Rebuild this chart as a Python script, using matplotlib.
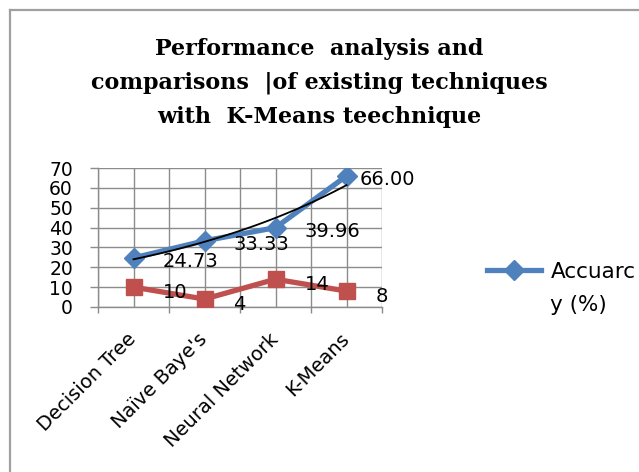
import numpy as np
import matplotlib
matplotlib.use("Agg")
import matplotlib.pyplot as plt
from matplotlib.lines import Line2D

categories = ["Decision Tree", "Naïve Baye's", "Neural Network", "K-Means"]
accuracy = [24.73, 33.33, 39.96, 66.00]
accuracy_labels = ["24.73", "33.33", "39.96", "66.00"]
second = [10, 4, 14, 8]
second_labels = ["10", "4", "14", "8"]
yticks = [0, 10, 20, 30, 40, 50, 60, 70]
title = "Performance  analysis and\ncomparisons  |of existing techniques\nwith  K-Means teechnique"
legend_line1 = "Accuarc"
legend_line2 = "y (%)"

BLUE = "#4F81BD"
RED = "#C0504D"
GRID = "#8C8C8C"
DPI = 100

fig = plt.figure(figsize=(6.39, 4.72), dpi=DPI)
ax = fig.add_axes([98/639, 1-307/472, (382-98)/639, (307-168)/472])

x = np.arange(len(categories))
blue_line, = ax.plot(x, accuracy, color=BLUE, lw=3.8, marker="D", ms=10,
                     mec=BLUE, mfc=BLUE, zorder=4)
ax.plot(x, second, color=RED, lw=3.8, marker="s", ms=11, mec=RED, mfc=RED,
        zorder=4)

# exponential trendline on accuracy
coef = np.polyfit(x, np.log(accuracy), 1)
xt = np.linspace(x[0], x[-1], 100)
ax.plot(xt, np.exp(np.polyval(coef, xt)), color="black", lw=1.3, zorder=5)

for i, (v, t) in enumerate(zip(accuracy, accuracy_labels)):
    dx = 13 if i == len(accuracy) - 1 else 29
    ax.annotate(t, (x[i], v), xytext=(dx, -4), textcoords="offset pixels",
                ha="left", va="center", fontsize=14, color="black", zorder=6)
for i, (v, t) in enumerate(zip(second, second_labels)):
    ax.annotate(t, (x[i], v), xytext=(29, -5), textcoords="offset pixels",
                ha="left", va="center", fontsize=14, color="black", zorder=6)

ax.set_xlim(-0.5, len(categories) - 0.5)
ax.set_ylim(0, 70)
ax.set_yticks(yticks)
ax.set_yticklabels([str(t) for t in yticks], fontsize=13.5)
ax.set_xticks(x)
ax.set_xticklabels(categories, rotation=45, ha="right", va="center",
                   rotation_mode="anchor", fontsize=14)
ax.set_xticks(np.arange(-0.5, len(categories), 1.0), minor=True)
ax.tick_params(axis="x", which="major", length=0, pad=21)
ax.tick_params(axis="x", which="minor", length=4, color=GRID, width=1, direction="out")
ax.tick_params(axis="y", which="major", length=6, color=GRID, width=1, pad=12)
ax.grid(True, which="both", axis="x", color=GRID, lw=1)
ax.grid(True, which="major", axis="y", color=GRID, lw=1)
ax.set_axisbelow(True)
for s in ["top", "right"]:
    ax.spines[s].set_visible(False)
for s in ["left", "bottom"]:
    ax.spines[s].set_color(GRID)
    ax.spines[s].set_linewidth(1)

fig.text(0.5, 1 - 83/472, title, ha="center", va="center", fontsize=16,
         family="DejaVu Serif", fontweight="bold", linespacing=1.68)

leg = fig.legend([blue_line], [legend_line1], loc="center left",
                 bbox_to_anchor=(487/639, 1 - 272/472), frameon=False,
                 fontsize=15.5, handlelength=2.5, handletextpad=0.45,
                 borderpad=0, borderaxespad=0)
fig.text(550/639, 1 - 305/472, legend_line2, ha="left", va="center", fontsize=15.5)

border = "#A0A0A0"
fig.add_artist(Line2D([10/639, 10/639], [0, 1 - 10/472], color=border, lw=1.6,
                      transform=fig.transFigure))
fig.add_artist(Line2D([10/639, 1], [1 - 10/472, 1 - 10/472], color=border, lw=1.6,
                      transform=fig.transFigure))

fig.savefig("out.png", dpi=DPI)
